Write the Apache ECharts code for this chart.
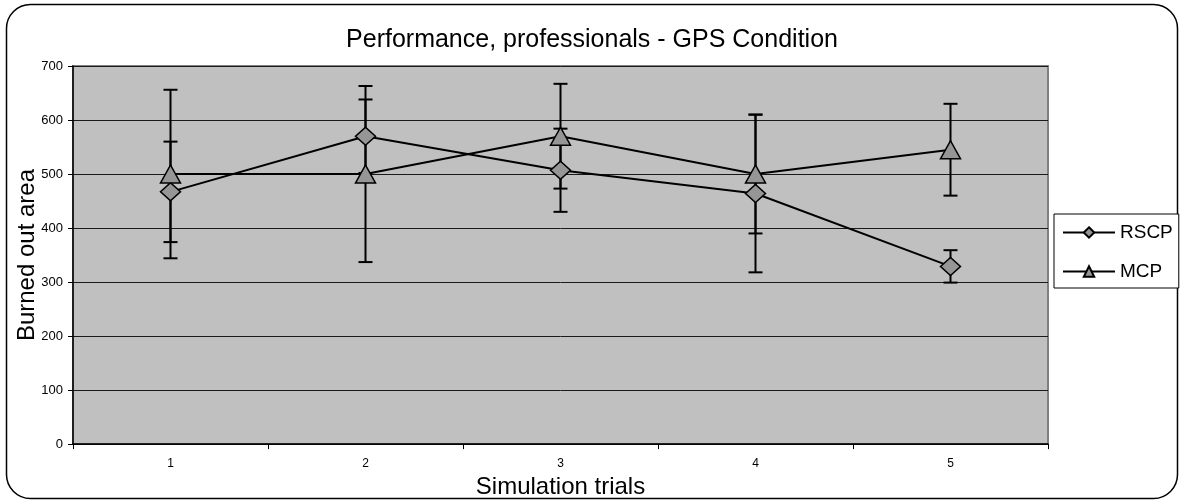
<!DOCTYPE html>
<html>
<head>
<meta charset="utf-8">
<script src="https://cdn.jsdelivr.net/npm/echarts@6/dist/echarts.min.js"></script>
<style>
html,body{margin:0;padding:0;background:#fff;}
#main{width:1184px;height:504px;}
</style>
</head>
<body>
<div id="main"></div>
<script>
var categories = ['1', '2', '3', '4', '5'];
var rscpValues = [467, 570, 507, 464, 329];
var rscpErrors = [93, 68, 77, 146, 30];
var mcpValues = [500, 500, 570, 500, 545];
var mcpErrors = [156, 163, 97, 110, 85];
var yTicks = { min: 0, max: 700, interval: 100 };

var FONT = "'Liberation Sans', Arial, sans-serif";

function errData(vals, errs) {
  return vals.map(function (v, i) { return [i, v - errs[i], v + errs[i]]; });
}

function renderErr(params, api) {
  var x = api.value(0);
  var lo = api.coord([x, api.value(1)]);
  var hi = api.coord([x, api.value(2)]);
  var cw = 7;
  var st = { stroke: '#000', lineWidth: 2 };
  return {
    type: 'group',
    children: [
      { type: 'line', shape: { x1: lo[0], y1: lo[1], x2: hi[0], y2: hi[1] }, style: st },
      { type: 'line', shape: { x1: lo[0] - cw, y1: lo[1], x2: lo[0] + cw, y2: lo[1] }, style: st },
      { type: 'line', shape: { x1: hi[0] - cw, y1: hi[1], x2: hi[0] + cw, y2: hi[1] }, style: st }
    ]
  };
}

var chart = echarts.init(document.getElementById('main'), null, { renderer: 'canvas' });
chart.setOption({
  backgroundColor: '#ffffff',
  animation: false,
  textStyle: { fontFamily: FONT },
  title: {
    text: 'Performance, professionals - GPS Condition',
    left: 'center',
    top: 23,
    textStyle: { fontFamily: FONT, fontSize: 25, fontWeight: 'normal', color: '#000' }
  },
  graphic: [{
    type: 'rect',
    z: -10,
    shape: { x: 6.5, y: 4.5, width: 1171, height: 494, r: 24 },
    style: { fill: 'none', stroke: '#000', lineWidth: 1.5 }
  }],
  legend: {
    orient: 'vertical',
    left: 1054,
    top: 214,
    padding: [9, 6, 7, 8],
    itemGap: 20,
    itemWidth: 52,
    itemHeight: 13,
    borderColor: '#000',
    borderWidth: 1,
    backgroundColor: '#fff',
    textStyle: { fontFamily: FONT, fontSize: 19, color: '#000', padding: [0, 0, 0, 0] },
    data: ['RSCP', 'MCP']
  },
  grid: {
    left: 73, right: 136, top: 66, bottom: 58,
    show: true,
    backgroundColor: '#c0c0c0',
    borderColor: '#808080',
    borderWidth: 2
  },
  xAxis: {
    type: 'category',
    data: categories,
    boundaryGap: true,
    name: 'Simulation trials',
    nameLocation: 'middle',
    nameGap: 27,
    nameTextStyle: { fontFamily: FONT, fontSize: 24, color: '#000' },
    axisLine: { lineStyle: { color: '#000', width: 1.5 } },
    axisTick: { show: true, length: 5, lineStyle: { color: '#000' } },
    axisLabel: { fontFamily: FONT, fontSize: 12, color: '#000', margin: 14 },
    splitLine: { show: false }
  },
  yAxis: {
    type: 'value',
    min: yTicks.min,
    max: yTicks.max,
    interval: yTicks.interval,
    name: 'Burned out area',
    nameLocation: 'middle',
    nameGap: 34,
    nameMoveOverlap: false,
    nameTextStyle: { fontFamily: FONT, fontSize: 24, color: '#000' },
    axisLine: { show: true, lineStyle: { color: '#000', width: 1.5 } },
    axisTick: { show: true, length: 5, lineStyle: { color: '#000' } },
    axisLabel: { fontFamily: FONT, fontSize: 13, color: '#000', margin: 10 },
    splitLine: { show: true, lineStyle: { color: '#1a1a1a', width: 1 } }
  },
  series: [
    {
      name: 'RSCP err',
      type: 'custom',
      renderItem: renderErr,
      data: errData(rscpValues, rscpErrors),
      encode: { x: 0, y: [1, 2] },
      z: 1,
      silent: true
    },
    {
      name: 'MCP err',
      type: 'custom',
      renderItem: renderErr,
      data: errData(mcpValues, mcpErrors),
      encode: { x: 0, y: [1, 2] },
      z: 1,
      silent: true
    },
    {
      name: 'RSCP',
      type: 'line',
      data: rscpValues,
      symbol: 'diamond',
      symbolSize: [20, 18],
      z: 3,
      lineStyle: { color: '#000', width: 2 },
      itemStyle: { color: '#969696', borderColor: '#000', borderWidth: 1.5 }
    },
    {
      name: 'MCP',
      type: 'line',
      data: mcpValues,
      symbol: 'triangle',
      symbolSize: [20, 18],
      z: 3,
      lineStyle: { color: '#000', width: 2 },
      itemStyle: { color: '#969696', borderColor: '#000', borderWidth: 1.5 }
    }
  ]
});
</script>
</body>
</html>
